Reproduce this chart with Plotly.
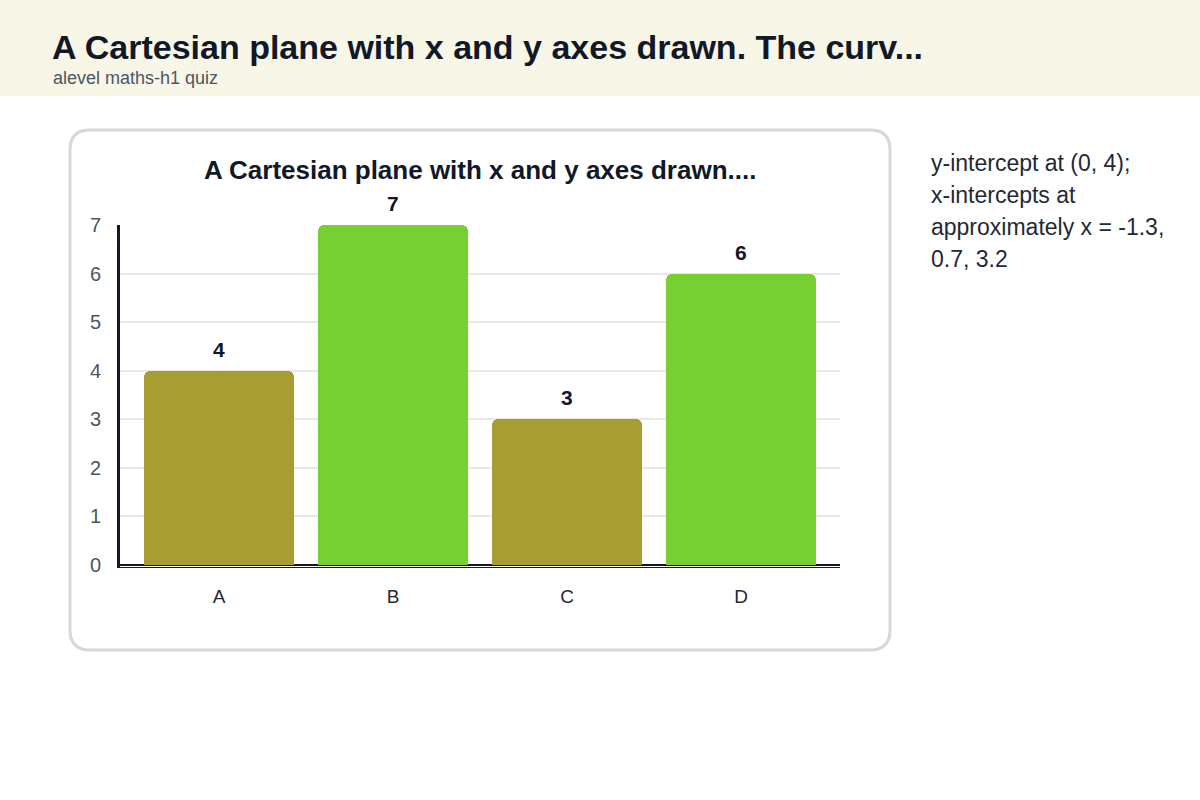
import plotly.graph_objects as go

categories = ["A", "B", "C", "D"]
values = [4, 7, 3, 6]
bar_colors = ["#a79d33", "#77cf33", "#a79d33", "#77cf33"]
y_ticks = [0, 1, 2, 3, 4, 5, 6, 7]

page_title = "A Cartesian plane with x and y axes drawn. The curv..."
page_subtitle = "alevel maths-h1 quiz"
chart_title = "A Cartesian plane with x and y axes drawn...."
side_note_lines = ["y-intercept at (0, 4);", "x-intercepts at", "approximately x = -1.3,", "0.7, 3.2"]

W, H = 1200, 800
FONT = "Liberation Sans, Arial, sans-serif"

Y0_PX, Y7_PX = 565, 225
UNIT = (Y0_PX - Y7_PX) / 7.0
Y_MIN = -0.04


def px(x):
    return x / W


def py(y):
    return 1 - y / H


def rounded_rect(x0, y0, x1, y1, r):
    X0, X1 = px(x0), px(x1)
    Y0, Y1 = py(y0), py(y1)
    rx, ry = r / W, r / H
    return (
        f"M {X0 + rx},{Y0} L {X1 - rx},{Y0} Q {X1},{Y0} {X1},{Y0 - ry} "
        f"L {X1},{Y1 + ry} Q {X1},{Y1} {X1 - rx},{Y1} "
        f"L {X0 + rx},{Y1} Q {X0},{Y1} {X0},{Y1 + ry} "
        f"L {X0},{Y0 - ry} Q {X0},{Y0} {X0 + rx},{Y0} Z"
    )


fig = go.Figure()
fig.add_trace(
    go.Bar(
        x=categories,
        y=values,
        marker=dict(color=bar_colors, cornerradius=6, line=dict(width=0)),
        width=0.862,
        hoverinfo="skip",
    )
)

shapes = [
    dict(type="rect", xref="paper", yref="paper", x0=0, x1=1, y0=py(96), y1=1,
         fillcolor="#f8f7e7", line=dict(width=0), layer="below"),
    dict(type="path", xref="paper", yref="paper", path=rounded_rect(70, 130, 890, 650, 20),
         fillcolor="#ffffff", line=dict(color="#d5d7dc", width=3), layer="below"),
]

annotations = [
    dict(text=f"<b>{page_title}</b>", xref="paper", yref="paper", x=px(50), y=py(47),
         xanchor="left", yanchor="middle", showarrow=False,
         font=dict(family=FONT, size=34, color="#111827")),
    dict(text=page_subtitle, xref="paper", yref="paper", x=px(51), y=py(78),
         xanchor="left", yanchor="middle", showarrow=False,
         font=dict(family=FONT, size=18, color="#4b5563")),
    dict(text=f"<b>{chart_title}</b>", xref="paper", yref="paper", x=px(480), y=py(170),
         xanchor="center", yanchor="middle", showarrow=False,
         font=dict(family=FONT, size=26, color="#111827")),
]
for i, line in enumerate(side_note_lines):
    annotations.append(
        dict(text=line, xref="paper", yref="paper", x=px(929), y=py(163 + 32 * i),
             xanchor="left", yanchor="middle", showarrow=False,
             font=dict(family=FONT, size=23, color="#1f2937"))
    )
for c, v in zip(categories, values):
    annotations.append(
        dict(text=f"<b>{v}</b>", x=c, y=v, xref="x", yref="y",
             xanchor="center", yanchor="bottom", yshift=8, showarrow=False,
             font=dict(family=FONT, size=21, color="#111827"))
    )

fig.update_layout(
    width=W,
    height=H,
    margin=dict(l=0, r=0, t=0, b=0, pad=0, autoexpand=False),
    paper_bgcolor="#ffffff",
    plot_bgcolor="rgba(0,0,0,0)",
    showlegend=False,
    shapes=shapes,
    annotations=annotations,
    bargap=0,
    xaxis=dict(
        domain=[px(120), px(840)],
        range=[-0.569, 3.569],
        showline=True, linecolor="#111827", linewidth=1,
        showgrid=False, zeroline=False,
        ticks="", tickfont=dict(family=FONT, size=19, color="#1f2937"),
        ticklabelstandoff=12,
        automargin=False,
        fixedrange=True,
    ),
    yaxis=dict(
        domain=[py(Y0_PX - Y_MIN * UNIT), py(Y7_PX)],
        range=[Y_MIN, 7],
        tickvals=y_ticks,
        showgrid=True, gridcolor="#e5e7eb", gridwidth=1.5,
        zeroline=True, zerolinecolor="#111827", zerolinewidth=1.5,
        showline=True, linecolor="#111827", linewidth=3,
        ticks="", tickfont=dict(family=FONT, size=20, color="#4b5563"),
        ticklabelstandoff=12,
        automargin=False,
        fixedrange=True,
    ),
)

post = (
    "document.body.style.margin='0';"
    "document.body.style.overflow='hidden';"
)

fig.write_html("out.html", config={"displayModeBar": False}, post_script=post)
